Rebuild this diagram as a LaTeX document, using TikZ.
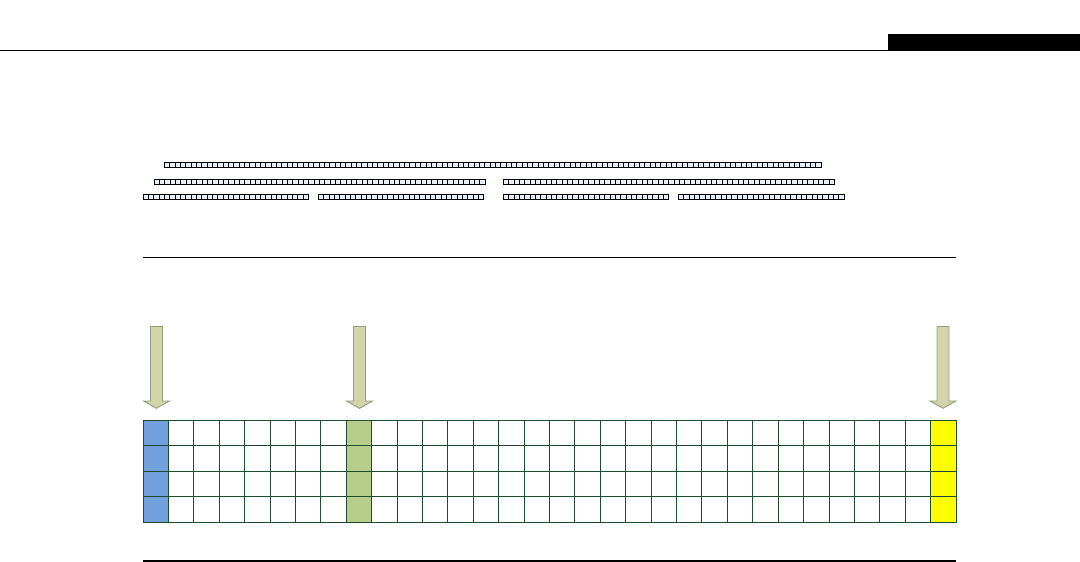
\documentclass[tikz,border=0pt]{standalone}
\usetikzlibrary{calc}
\definecolor{arrfill}{HTML}{D3D4AA}
\definecolor{arrdraw}{HTML}{8E9E80}
\definecolor{cellblue}{HTML}{71A0DC}
\definecolor{cellgreen}{HTML}{B7CD8A}
\definecolor{cellyellow}{HTML}{FFFF00}
\definecolor{gridline}{HTML}{1E4D2B}
\definecolor{tofu}{HTML}{E8EEF8}
\tikzset{
  tofubox/.style={draw=black, fill=tofu, line width=0.9bp},
  gridcell/.style={draw=gridline, line width=0.9bp},
  downarrow/.style={draw=arrdraw, fill=arrfill, line width=0.9bp, line join=miter},
  rule/.style={draw=black, line width=1.8bp}
}
\newcommand{\tofuseg}[3]{% x start, y center, count
  \foreach \k in {1,...,#3}{
    \path[tofubox] ({#1+(\k-1)*5.34},{#2-2.5}) rectangle ({#1+\k*5.34},{#2+2.5});
  }
}
\newcommand{\downarr}[1]{% center x
  \path[downarrow] ({#1-6},326.5) -- ({#1+6},326.5) -- ({#1+6},401) -- ({#1+13},401)
    -- (#1,408.3) -- ({#1-13},401) -- ({#1-6},401) -- cycle;
}
\begin{document}
\begin{tikzpicture}[x=1bp,y=-1bp]
\useasboundingbox (0,0) rectangle (1080,562);
% header
\draw[line width=1bp] (0,51) -- (888,51);
\fill[black] (888,33.7) rectangle (1080,51);
% tofu text lines
\tofuseg{164.3}{165}{123}
\tofuseg{154}{181.5}{62}
\tofuseg{503.3}{181.5}{62}
\tofuseg{143}{197}{31}
\tofuseg{318.3}{197}{31}
\tofuseg{503.3}{197}{31}
\tofuseg{678.5}{197}{31}
% rules
\coordinate (r1a) at (143,257.5);
\coordinate (r1b) at (956,257.5);
\coordinate (r2a) at (143,561);
\coordinate (r2b) at (956,561);
\draw[rule] (r1a) -- (r1b);
\draw[rule] (r2a) -- (r2b);
% arrows
\downarr{156.5}
\downarr{359.5}
\downarr{943}
% grid cells
\foreach \c in {0,...,31}{
  \foreach \r in {0,...,3}{
    \pgfmathsetmacro{\xa}{143+\c*25.406}
    \pgfmathsetmacro{\xb}{143+(\c+1)*25.406}
    \pgfmathsetmacro{\ya}{420+\r*25.5}
    \pgfmathsetmacro{\yb}{420+(\r+1)*25.5}
    \ifnum\c=0
      \path[gridcell, fill=cellblue] (\xa,\ya) rectangle (\xb,\yb);
    \else\ifnum\c=8
      \path[gridcell, fill=cellgreen] (\xa,\ya) rectangle (\xb,\yb);
    \else\ifnum\c=31
      \path[gridcell, fill=cellyellow] (\xa,\ya) rectangle (\xb,\yb);
    \else
      \path[gridcell, fill=white] (\xa,\ya) rectangle (\xb,\yb);
    \fi\fi\fi
  }
}
\end{tikzpicture}
\end{document}
